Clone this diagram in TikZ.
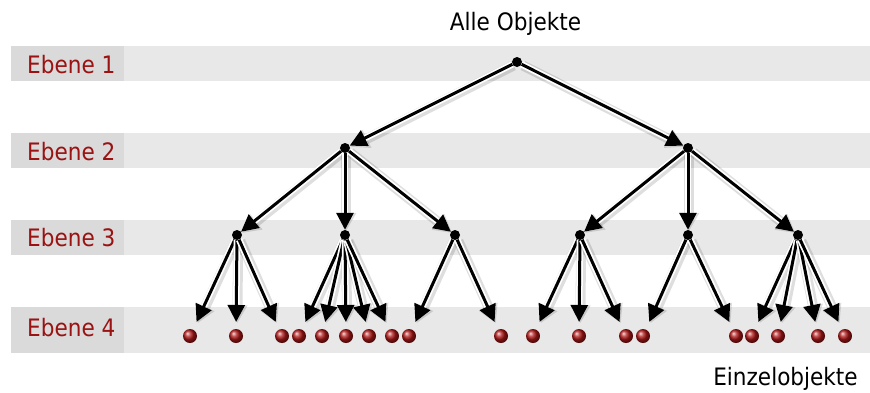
\documentclass[tikz,border=0pt]{standalone}
\usepackage{fontspec}
\setmainfont{DejaVu Sans}[FakeStretch=0.9]
\usetikzlibrary{arrows.meta,calc}
\pgfdeclarelayer{bands}
\pgfdeclarelayer{links}
\pgfsetlayers{bands,links,main}
\definecolor{bandgray}{HTML}{E8E8E8}
\definecolor{tabgray}{HTML}{DADADA}
\definecolor{levelred}{HTML}{9A1212}
\definecolor{ballred}{HTML}{B01818}
\tikzset{
  dot/.style={circle, fill=black, inner sep=0pt, minimum size=10pt},
  item/.style={circle, inner sep=0pt, minimum size=14pt, shading=ball, ball color=ballred},
  leveltext/.style={anchor=base west, inner sep=0pt, text=levelred, font=\fontsize{24}{28}\selectfont},
  caption/.style={anchor=base, inner sep=0pt, font=\fontsize{24}{28}\selectfont},
  linkshadow/.style={line width=10pt, draw=black, opacity=0.13, -{Triangle[length=18pt,width=19pt]}},
  linkhalo/.style={line width=6.5pt, draw=white, -{Triangle[length=17pt,width=17pt]}},
  linkcore/.style={line width=3pt, draw=black, -{Triangle[length=17pt,width=17pt]}},
}
% one connector: soft shadow, white halo, black arrow
\newcommand{\treelink}[2]{%
  \draw[linkshadow, transform canvas={shift={(1.2pt,-1.2pt)}}] #1 -- #2;
  \draw[linkhalo] #1 -- #2;
  \draw[linkcore] #1 -- #2;}
\begin{document}
\begin{tikzpicture}[x=1pt, y=-1pt]
\useasboundingbox (0,0) rectangle (870,392);

% level bands
\begin{pgfonlayer}{bands}
  \foreach \top/\bot in {46/81, 133/168, 220/254.5, 307/352.5} {
    \fill[bandgray] (124,\top) rectangle (870,\bot);
    \fill[tabgray] (11,\top) rectangle (124,\bot);
  }
\end{pgfonlayer}

% level labels and captions
\node[leveltext] (l1) at (27,73.3) {Ebene 1};
\node[leveltext] (l2) at (27,160) {Ebene 2};
\node[leveltext] (l3) at (27,246.7) {Ebene 3};
\node[leveltext] (l4) at (27,336.7) {Ebene 4};
\node[caption] (alle) at (515.5,30.7) {Alle Objekte};
\node[caption] (einzel) at (785.5,385) {Einzelobjekte};

% inner nodes
\node[dot] (root) at (517,62) {};
\node[dot] (n2a) at (345,148) {};
\node[dot] (n2b) at (688,148) {};
\node[dot] (n3a) at (237,235) {};
\node[dot] (n3b) at (345,235) {};
\node[dot] (n3c) at (455,235) {};
\node[dot] (n3d) at (580,235) {};
\node[dot] (n3e) at (688,235) {};
\node[dot] (n3f) at (798,235) {};

% single objects
\foreach \x [count=\i] in {190,236,282,299,322,346,369,392,409,501,533,579,626,643,736,752,778,818,845}
  \node[item] (b\i) at (\x,336) {};

% connectors
\begin{pgfonlayer}{links}
  \foreach \p/\c in {root/n2a, root/n2b, n2a/n3a, n2a/n3b, n2a/n3c, n2b/n3d, n2b/n3e, n2b/n3f}
    {\treelink{(\p)}{(\c)}}
  \foreach \p/\c in {n3a/b1, n3a/b2, n3a/b3,
                     n3b/b4, n3b/b5, n3b/b6, n3b/b7, n3b/b8,
                     n3c/b9, n3c/b10,
                     n3d/b11, n3d/b12, n3d/b13,
                     n3e/b14, n3e/b15,
                     n3f/b16, n3f/b17, n3f/b18, n3f/b19}
    {\treelink{(\p)}{($(\p)!0.861!(\c)$)}}
\end{pgfonlayer}
\end{tikzpicture}
\end{document}
